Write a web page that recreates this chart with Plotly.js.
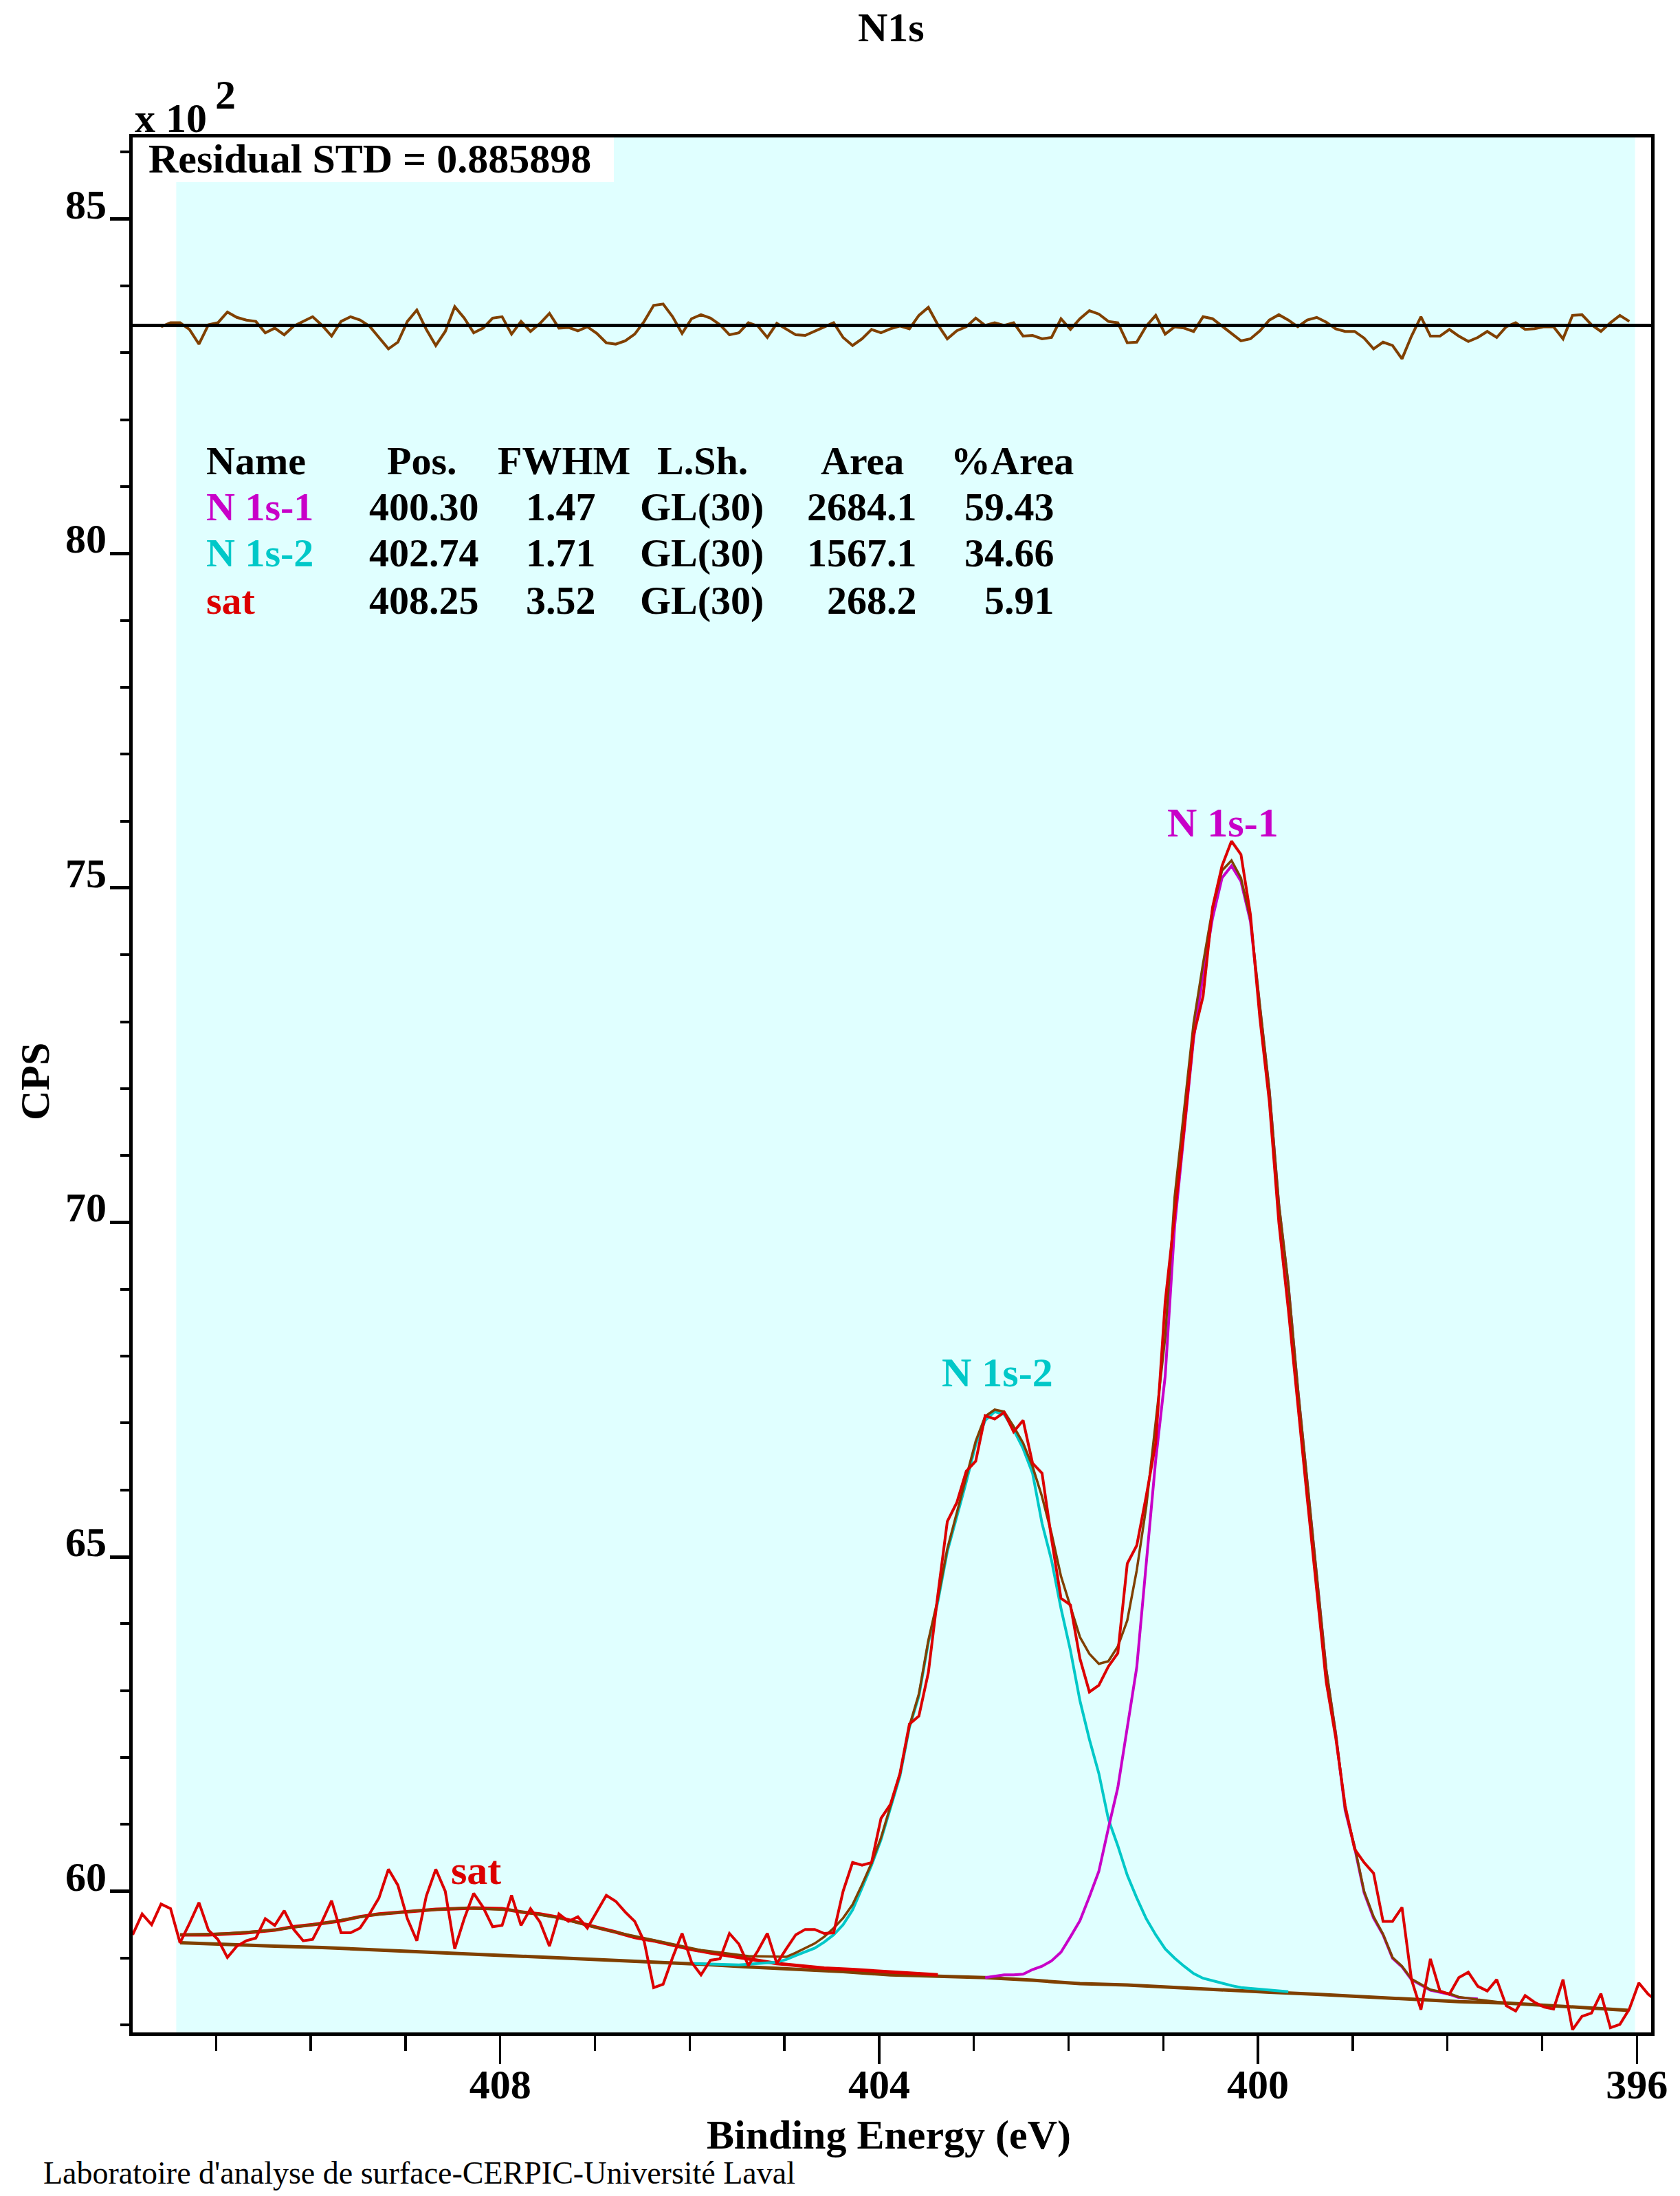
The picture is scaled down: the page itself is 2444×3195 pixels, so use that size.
<!DOCTYPE html>
<html>
<head>
<meta charset="utf-8">
<script src="https://cdn.plot.ly/plotly-3.0.1.min.js"></script>
<style>
html,body{margin:0;padding:0;background:#ffffff;}
#chart{width:2444px;height:3195px;}
</style>
</head>
<body>
<div id="chart"></div>
<script>
// ---------------- DATA ----------------
// Binding energies of the measured spectrum (eV)
const rawEnergy = [
411.88,411.78,411.68,411.58,411.48,411.38,411.28,411.18,411.08,410.98,
410.88,410.78,410.68,410.58,410.48,410.38,410.28,410.18,410.08,409.98,
409.88,409.78,409.68,409.58,409.48,409.38,409.28,409.18,409.08,408.98,
408.88,408.78,408.68,408.58,408.48,408.38,408.28,408.18,408.08,407.98,
407.88,407.78,407.68,407.58,407.48,407.38,407.28,407.18,407.08,406.98,
406.88,406.78,406.68,406.58,406.48,406.38,406.28,406.18,406.08,405.98,
405.88,405.78,405.68,405.58,405.48,405.38,405.28,405.18,405.08,404.98,
404.88,404.78,404.68,404.58,404.48,404.38,404.28,404.18,404.08,403.98,
403.88,403.78,403.68,403.58,403.48,403.38,403.28,403.18,403.08,402.98,
402.88,402.78,402.68,402.58,402.48,402.38,402.28,402.18,402.08,401.98,
401.88,401.78,401.68,401.58,401.48,401.38,401.28,401.18,401.08,400.98,
400.88,400.78,400.68,400.58,400.48,400.38,400.28,400.18,400.08,399.98,
399.88,399.78,399.68,399.58,399.48,399.38,399.28,399.18,399.08,398.98,
398.88,398.78,398.68,398.58,398.48,398.38,398.28,398.18,398.08,397.98,
397.88,397.78,397.68,397.58,397.48,397.38,397.28,397.18,397.08,396.98,
396.88,396.78,396.68,396.58,396.48,396.38,396.28,396.18,396.08,395.98,
395.88,395.78];
// Measured counts (x 10^2 CPS)
const rawCps = [
59.35,59.66,59.50,59.81,59.74,59.23,59.52,59.83,59.42,59.28,
59.01,59.18,59.26,59.30,59.59,59.49,59.71,59.43,59.26,59.28,
59.55,59.86,59.38,59.38,59.45,59.66,59.90,60.33,60.09,59.59,
59.26,59.93,60.33,60.00,59.14,59.59,59.97,59.76,59.47,59.49,
59.94,59.49,59.74,59.54,59.18,59.66,59.55,59.62,59.45,59.69,
59.94,59.85,59.69,59.55,59.25,58.56,58.61,59.01,59.37,58.94,
58.75,58.97,58.99,59.37,59.21,58.89,59.11,59.37,58.92,59.14,
59.35,59.43,59.43,59.37,59.38,60.00,60.43,60.39,60.43,61.09,
61.30,61.76,62.50,62.62,63.27,64.43,65.53,65.81,66.28,66.43,
67.11,67.06,67.16,66.87,67.04,66.40,66.25,65.27,64.38,64.28,
63.48,62.98,63.08,63.36,63.56,64.90,65.17,65.91,66.70,68.81,
70.10,71.40,72.80,73.38,74.71,75.33,75.70,75.50,74.60,73.05,
71.80,70.00,68.70,67.24,65.87,64.50,63.13,62.30,61.28,60.63,
60.43,60.27,59.55,59.55,59.76,58.68,58.23,58.99,58.51,58.46,
58.71,58.79,58.58,58.51,58.68,58.29,58.21,58.44,58.34,58.27,
58.24,58.68,57.93,58.13,58.18,58.47,57.96,58.01,58.24,58.63,
58.46,58.35];

// Residual (drawn offset around the residual baseline)
const residualEnergy = [
411.58,411.48,411.38,411.28,411.18,411.08,410.98,410.88,410.78,410.68,
410.58,410.48,410.38,410.28,410.18,410.08,409.98,409.88,409.78,409.68,
409.58,409.48,409.38,409.28,409.18,409.08,408.98,408.88,408.78,408.68,
408.58,408.48,408.38,408.28,408.18,408.08,407.98,407.88,407.78,407.68,
407.58,407.48,407.38,407.28,407.18,407.08,406.98,406.88,406.78,406.68,
406.58,406.48,406.38,406.28,406.18,406.08,405.98,405.88,405.78,405.68,
405.58,405.48,405.38,405.28,405.18,405.08,404.98,404.88,404.78,404.68,
404.58,404.48,404.38,404.28,404.18,404.08,403.98,403.88,403.78,403.68,
403.58,403.48,403.38,403.28,403.18,403.08,402.98,402.88,402.78,402.68,
402.58,402.48,402.38,402.28,402.18,402.08,401.98,401.88,401.78,401.68,
401.58,401.48,401.38,401.28,401.18,401.08,400.98,400.88,400.78,400.68,
400.58,400.48,400.38,400.28,400.18,400.08,399.98,399.88,399.78,399.68,
399.58,399.48,399.38,399.28,399.18,399.08,398.98,398.88,398.78,398.68,
398.58,398.48,398.38,398.28,398.18,398.08,397.98,397.88,397.78,397.68,
397.58,397.48,397.38,397.28,397.18,397.08,396.98,396.88,396.78,396.68,
396.58,396.48,396.38,396.28,396.18,396.08];
const residualCps = [
83.39,83.45,83.45,83.35,83.13,83.42,83.45,83.61,83.53,83.49,
83.47,83.30,83.37,83.27,83.40,83.47,83.54,83.41,83.25,83.47,
83.54,83.49,83.40,83.23,83.06,83.16,83.47,83.64,83.35,83.11,
83.32,83.69,83.52,83.30,83.37,83.52,83.54,83.28,83.47,83.32,
83.44,83.59,83.37,83.38,83.33,83.39,83.29,83.15,83.13,83.18,
83.28,83.47,83.71,83.73,83.54,83.29,83.51,83.57,83.52,83.42,
83.27,83.30,83.45,83.40,83.23,83.44,83.35,83.27,83.26,83.32,
83.38,83.45,83.23,83.11,83.21,83.35,83.30,83.36,83.40,83.36,
83.56,83.68,83.42,83.21,83.33,83.39,83.52,83.41,83.45,83.41,
83.45,83.25,83.26,83.21,83.23,83.51,83.35,83.51,83.63,83.58,
83.47,83.45,83.15,83.16,83.40,83.56,83.28,83.39,83.37,83.32,
83.54,83.51,83.40,83.29,83.18,83.21,83.33,83.49,83.57,83.49,
83.39,83.49,83.53,83.46,83.36,83.32,83.32,83.22,83.06,83.16,
83.11,82.91,83.25,83.54,83.25,83.25,83.35,83.25,83.17,83.23,
83.32,83.23,83.39,83.45,83.35,83.36,83.39,83.39,83.21,83.56,
83.57,83.42,83.32,83.45,83.56,83.47];
const residualBaseline = 83.41;

// Shirley-type background
const bgEnergy = [411.38,410.88,410.38,409.88,409.38,408.88,408.38,407.88,407.38,406.88,
406.38,405.88,405.38,404.88,404.38,403.88,403.38,402.88,402.38,401.88,
401.38,400.88,400.38,399.88,399.38,398.88,398.38,397.88,397.38,396.88,396.38,396.08];
const bgCps = [59.23,59.20,59.18,59.16,59.13,59.10,59.06,59.03,59.00,58.98,
58.95,58.91,58.87,58.84,58.80,58.75,58.73,58.71,58.67,58.62,
58.60,58.56,58.52,58.49,58.46,58.42,58.39,58.35,58.33,58.29,58.25,58.22];

// Component "sat" (on background)
const satEnergy = [411.38,411.08,410.68,410.38,410.18,409.98,409.68,409.48,409.28,408.98,
408.68,408.28,407.98,407.78,407.58,407.38,407.18,406.98,406.78,406.58,
406.38,406.18,405.98,405.78,405.58,405.38,405.08,404.88,404.58,404.28,403.98,403.68,403.38];
const satCps = [59.35,59.35,59.38,59.42,59.47,59.50,59.56,59.62,59.66,59.70,
59.73,59.75,59.74,59.69,59.66,59.61,59.53,59.46,59.39,59.31,
59.26,59.19,59.13,59.08,59.03,58.99,58.92,58.89,58.85,58.83,58.80,58.77,58.75];

// Component "N 1s-2" (on background)
const n1s2Energy = [405.98,405.48,405.08,404.98,404.88,404.78,404.68,404.58,404.48,404.38,
404.28,404.18,404.08,403.98,403.88,403.78,403.68,403.58,403.48,403.38,
403.28,403.18,403.08,402.98,402.88,402.78,402.68,402.58,402.48,402.38,
402.28,402.18,402.08,401.98,401.88,401.78,401.68,401.58,401.48,401.38,
401.28,401.18,401.08,400.98,400.88,400.78,400.68,400.58,400.48,400.38,
400.28,400.18,400.08,399.98,399.88,399.78,399.68];
const n1s2Cps = [58.92,58.90,58.94,58.98,59.04,59.09,59.15,59.24,59.35,59.50,
59.72,60.05,60.39,60.77,61.23,61.72,62.45,62.92,63.72,64.33,
65.08,65.60,66.12,66.68,67.04,67.17,67.13,66.90,66.62,66.25,
65.50,64.95,64.23,63.60,62.85,62.27,61.76,61.08,60.68,60.24,
59.90,59.59,59.35,59.14,59.00,58.88,58.77,58.70,58.66,58.63,
58.59,58.56,58.55,58.54,58.53,58.51,58.50];

// Component "N 1s-1" (on background)
const n1s1Energy = [402.88,402.78,402.68,402.58,402.48,402.38,402.28,402.18,402.08,401.98,
401.88,401.78,401.68,401.58,401.48,401.38,401.28,401.18,401.08,400.98,
400.88,400.78,400.68,400.58,400.48,400.38,400.28,400.18,400.08,399.98,
399.88,399.78,399.68,399.58,399.48,399.38,399.28,399.18,399.08,398.98,
398.88,398.78,398.68,398.58,398.48,398.38,398.28,398.18,398.08,397.98,
397.88,397.78,397.68];
const n1s1Cps = [58.71,58.73,58.75,58.75,58.76,58.83,58.88,58.96,59.09,59.32,
59.56,59.92,60.30,60.94,61.55,62.45,63.35,64.90,66.45,67.70,
69.95,71.35,72.75,73.70,74.55,75.15,75.33,75.10,74.50,73.20,
71.95,70.25,69.05,67.50,66.10,64.75,63.30,62.35,61.21,60.65,
59.98,59.60,59.35,59.00,58.87,58.68,58.60,58.52,58.49,58.46,
58.41,58.40,58.39];

// Fit envelope
const envEnergy = [411.38,410.88,410.38,409.88,409.38,408.88,408.38,407.88,407.38,406.88,
406.38,405.88,405.38,404.98,404.88,404.78,404.68,404.58,404.48,404.38,
404.28,404.18,404.08,403.98,403.88,403.78,403.68,403.58,403.48,403.38,
403.28,403.18,403.08,402.98,402.88,402.78,402.68,402.58,402.48,402.38,
402.28,402.18,402.08,401.98,401.88,401.78,401.68,401.58,401.48,401.38,
401.28,401.18,401.08,400.98,400.88,400.78,400.68,400.58,400.48,400.38,
400.28,400.18,400.08,399.98,399.88,399.78,399.68,399.58,399.48,399.38,
399.28,399.18,399.08,398.98,398.88,398.78,398.68,398.58,398.48,398.38,
398.28,398.18,398.08,397.98,397.88,397.78,397.68,397.38,396.88,396.38,396.08];
const envCps = [59.35,59.37,59.42,59.52,59.64,59.71,59.75,59.72,59.60,59.42,
59.27,59.12,59.03,59.02,59.08,59.15,59.22,59.32,59.45,59.60,
59.80,60.10,60.42,60.80,61.26,61.75,62.47,62.95,63.75,64.37,
65.12,65.65,66.17,66.73,67.10,67.20,67.17,66.95,66.70,66.35,
65.90,65.35,64.71,64.25,63.80,63.55,63.40,63.44,63.66,64.05,
64.80,65.75,67.00,68.28,70.38,71.68,72.98,73.87,74.69,75.26,
75.41,75.15,74.54,73.24,71.98,70.28,69.08,67.53,66.12,64.77,
63.32,62.37,61.23,60.67,60.00,59.62,59.36,59.01,58.88,58.69,
58.61,58.53,58.50,58.47,58.42,58.40,58.38,58.33,58.29,58.25,58.22];

// Fitted region limits (eV)
const regionStart = 411.42;
const regionEnd = 396.02;

// Fit table
const tableHeader = ['Name','Pos.','FWHM','L.Sh.','Area','%Area'];
const compNames = ['N 1s-1','N 1s-2','sat'];
const compPos = ['400.30','402.74','408.25'];
const compFwhm = ['1.47','1.71','3.52'];
const compShape = ['GL(30)','GL(30)','GL(30)'];
const compArea = ['2684.1','1567.1','268.2'];
const compPct = ['59.43','34.66','5.91'];
const residualText = 'Residual STD = 0.885898';

// Axis ranges
const xRange = [411.88, 395.85];
const yRange = [57.89, 86.22];

// ---------------- STYLE ----------------
const W = 2444, H = 3195, ML = 193, MR = 42, MT = 200, MB = 238;
const PW = W - ML - MR, PH = H - MT - MB;
const px = v => (v - ML) / PW;
const py = v => (H - MB - v) / PH;
const FAM = '"Liberation Serif", "Times New Roman", serif';
const RED = '#dc0000', MAG = '#c800c8', CYA = '#00c8c8', BRN = '#804000', BGC = '#e0ffff';
const boldFont = (size, color) => ({family: FAM, size: size, color: color || '#000', weight: 'bold'});

const compColors = [MAG, CYA, RED];

const traces = [
  {x: bgEnergy, y: bgCps, mode: 'lines', line: {color: BRN, width: 5}, hoverinfo: 'skip'},
  {x: satEnergy, y: satCps, mode: 'lines', line: {color: RED, width: 5}, hoverinfo: 'skip'},
  {x: n1s2Energy, y: n1s2Cps, mode: 'lines', line: {color: CYA, width: 4}, hoverinfo: 'skip'},
  {x: n1s1Energy, y: n1s1Cps, mode: 'lines', line: {color: MAG, width: 4}, hoverinfo: 'skip'},
  {x: envEnergy, y: envCps, mode: 'lines', line: {color: BRN, width: 3.5}, hoverinfo: 'skip'},
  {x: rawEnergy, y: rawCps, mode: 'lines', line: {color: RED, width: 4}, hoverinfo: 'skip'},
  {x: residualEnergy, y: residualCps, mode: 'lines', line: {color: BRN, width: 4}, hoverinfo: 'skip'}
];

const ann = [];
function addText(text, x, yMid, anchor, font, extra) {
  ann.push(Object.assign({text: text, x: px(x), y: py(yMid), xref: 'paper', yref: 'paper',
    xanchor: anchor, yanchor: 'middle', showarrow: false, font: font}, extra || {}));
}
// title & exponent
addText('N1s', 1296, 40, 'center', boldFont(60));
addText('x 10', 194, 172, 'left', boldFont(60));
addText('2', 311, 138, 'left', boldFont(60));
addText(residualText, 214, 231, 'left', boldFont(60));
// table
const headX = [298, 614, 820, 1022, 1254, 1472];
const headAnchor = ['left','center','center','center','center','center'];
tableHeader.forEach((h, i) => addText(h, headX[i], 670, headAnchor[i], boldFont(58)));
const rowY = [737, 805, 873];
compNames.forEach((n, i) => {
  addText(n, 298, rowY[i], 'left', boldFont(58, compColors[i]));
  addText(compPos[i], 617, rowY[i], 'center', boldFont(58));
  addText(compFwhm[i], 816, rowY[i], 'center', boldFont(58));
  addText(compShape[i], 1021, rowY[i], 'center', boldFont(58));
  addText(compArea[i], 1336, rowY[i], 'right', boldFont(58));
  addText(compPct[i], 1536, rowY[i], 'right', boldFont(58));
});
// peak labels
addText(compNames[0], 1779, 1197, 'center', boldFont(60, MAG));
addText(compNames[1], 1451, 1997, 'center', boldFont(60, CYA));
addText(compNames[2], 692, 2721, 'center', boldFont(60, RED));
// axis titles & footer
addText('Binding Energy (eV)', 1293, 3106, 'center', boldFont(60));
addText('CPS', 51, 1574, 'center', boldFont(60), {textangle: -90});
addText("Laboratoire d'analyse de surface-CERPIC-Université Laval", 61, 3162, 'left',
  {family: FAM, size: 46, color: '#000'});

const shapes = [
  {type: 'rect', xref: 'x', yref: 'paper', x0: regionStart, x1: regionEnd, y0: 0, y1: 1,
   fillcolor: BGC, line: {width: 0}, layer: 'below'},
  {type: 'rect', xref: 'paper', yref: 'paper', x0: 0, x1: px(893), y0: py(265), y1: 1,
   fillcolor: '#ffffff', line: {width: 0}, layer: 'below'},
  {type: 'line', xref: 'paper', yref: 'y', x0: 0, x1: 1, y0: residualBaseline, y1: residualBaseline,
   line: {color: '#000', width: 5}, layer: 'above'}
];

const layout = {
  width: W, height: H,
  margin: {l: ML, r: MR, t: MT, b: MB, pad: 0},
  paper_bgcolor: '#ffffff', plot_bgcolor: '#ffffff',
  showlegend: false,
  xaxis: {
    range: xRange, autorange: false, showgrid: false, zeroline: false,
    showline: true, linecolor: '#000', linewidth: 5, mirror: true,
    tickmode: 'linear', tick0: 396, dtick: 4,
    ticks: 'outside', ticklen: 41, tickwidth: 3.5, tickcolor: '#000',
    tickfont: boldFont(60), ticklabelstandoff: -22,
    minor: {tick0: 396, dtick: 1, ticks: 'outside', ticklen: 22, tickwidth: 3.5, tickcolor: '#000', showgrid: false}
  },
  yaxis: {
    range: yRange, autorange: false, showgrid: false, zeroline: false,
    showline: true, linecolor: '#000', linewidth: 5, mirror: true,
    tickmode: 'linear', tick0: 60, dtick: 5,
    ticks: 'outside', ticklen: 28, tickwidth: 5, tickcolor: '#000',
    tickfont: boldFont(60), ticklabelshift: -22, ticklabelstandoff: -7,
    minor: {tick0: 60, dtick: 1, ticks: 'outside', ticklen: 13, tickwidth: 4, tickcolor: '#000', showgrid: false}
  },
  shapes: shapes,
  annotations: ann
};

Plotly.newPlot('chart', traces, layout, {staticPlot: true, displayModeBar: false});
</script>
</body>
</html>
